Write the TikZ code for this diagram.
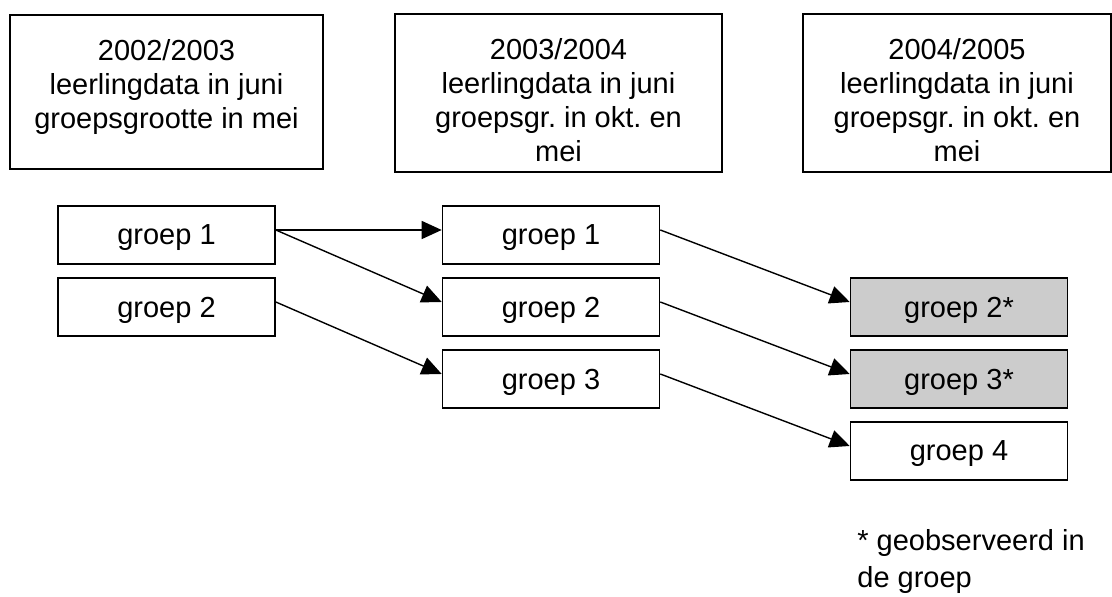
\documentclass[tikz,border=0pt]{standalone}
\usepackage{fontspec}
\setmainfont{Liberation Sans}
\usepackage{tikz}
\usetikzlibrary{shapes,arrows.meta}
\frenchspacing
\tikzset{
  jaar/.style={draw, line width=0.8pt, inner sep=0pt},
  groep/.style={draw, line width=0.8pt, inner sep=0pt, minimum width=108.5pt, minimum height=29pt, text depth=0pt},
  grijs/.style={groep, fill=black!20},
  pijl/.style={-{Triangle[length=10pt, width=9pt]}, line width=0.7pt}
}
\newcommand{\grjaar}[5] {\node at (#1) (#2) [jaar] {\parbox[c][#4][t]{#3}{\centering\vspace*{12.5pt}#5}};}
\newcommand{\grgroep}[3] {\node at (#1) (#2) [groep] {#3};}
\newcommand{\grgrijs}[3] {\node at (#1) (#2) [grijs] {#3};}
\newcommand{\grpijl}[2] {\draw [pijl] ([yshift=2.5pt]#1.east) -- ([yshift=2.5pt]#2.west);}
\begin{document}
\begin{tikzpicture}[x=0.5pt, y=0.5pt, font=\fontsize{14.5pt}{17pt}\selectfont]
\useasboundingbox (0,0) rectangle (1112,597);
\grjaar {166.5,505} {jaar1} {156.5pt} {77pt} {2002/2003\\ leerlingdata in juni\\ groepsgrootte in mei}
\grjaar {558.5,504} {jaar2} {163.5pt} {79pt} {2003/2004\\ leerlingdata in juni\\ groepsgr. in okt. en\\ mei}
\grjaar {957,504} {jaar3} {154pt} {79pt} {2004/2005\\ leerlingdata in juni\\ groepsgr. in okt. en\\ mei}

\grgroep {166.5,362} {a1} {groep 1};
\grgroep {166.5,290} {a2} {groep 2};
\grgroep {551,362} {b1} {groep 1};
\grgroep {551,290} {b2} {groep 2};
\grgroep {551,218} {b3} {groep 3};
\grgrijs {959,290} {c2} {groep 2*};
\grgrijs {959,218} {c3} {groep 3*};
\grgroep {959,146} {c4} {groep 4};

\grpijl{a1}{b1};
\grpijl{a1}{b2};
\grpijl{a2}{b3};
\grpijl{b1}{c2};
\grpijl{b2}{c3};
\grpijl{b3}{c4};

\node at (857,68) (noot) [anchor=north west, inner sep=0pt, align=left, font=\fontsize{14.5pt}{18.5pt}\selectfont] {* geobserveerd in\\ de groep};
\end{tikzpicture}
\end{document}
